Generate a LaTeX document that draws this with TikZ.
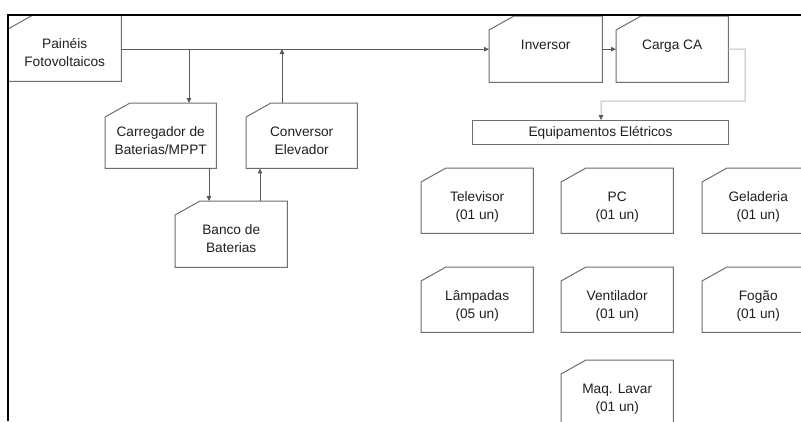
\documentclass[tikz,border=0pt]{standalone}
\usepackage{fontspec}
\setmainfont{Liberation Sans}
\usetikzlibrary{calc,arrows.meta}
\definecolor{boxgray}{HTML}{6E6E6E}
\definecolor{conngray}{HTML}{5A5A5A}
\definecolor{lightconn}{HTML}{BDBDBD}
\definecolor{txt}{HTML}{202020}
\tikzset{
  every node/.style={font=\fontsize{13.7}{18.5}\selectfont, text=txt},
  cardbox/.style={rectangle, inner sep=0pt, anchor=north west},
  cardlabel/.style={inner sep=0pt, anchor=base},
  boxline/.style={draw=boxgray, line width=1pt, line join=miter},
  conn/.style={draw=conngray, line width=0.95pt, -{Triangle[length=5pt,width=4.5pt]}},
  lconn/.style={draw=lightconn, line width=1pt, -{Triangle[length=5pt,width=4.5pt,color=conngray]}},
  frameline/.style={draw=black, line width=2pt}
}
\newcommand\cardnode[6]{%
  \node[cardbox, minimum width=#4pt, minimum height=#5pt] (#1) at (#2,#3) {};
  \node[cardlabel] (#1-t) at ($(#1.north)+(0pt,-33pt)$) {\begin{tabular}[t]{@{}c@{}}#6\end{tabular}};
}
\begin{document}
\begin{tikzpicture}[x=1pt,y=-1pt]
\useasboundingbox (0,0) rectangle (801,421);
\clip (0,0) rectangle (801,421);
\fill[white] (0,0) rectangle (801,421);

% boxes
\cardnode{pv}{8}{15}{113}{66}{Painéis\\Fotovoltaicos}
\cardnode{carr}{105}{103}{111}{65}{Carregador de\\Baterias/MPPT}
\cardnode{conv}{246}{103}{111}{65}{Conversor\\Elevador}
\cardnode{banco}{175}{201}{112}{66}{Banco de\\Baterias}
\cardnode{inv}{489}{16}{113}{66}{Inversor}
\cardnode{carga}{616}{16}{112}{66}{Carga CA}
\cardnode{tv}{421}{168}{112}{65}{Televisor\\(01 un)}
\cardnode{pc}{561}{168}{112}{65}{PC\\(01 un)}
\cardnode{gel}{702}{168}{112}{65}{Geladeria\\(01 un)}
\cardnode{lamp}{421}{267}{112}{65}{Lâmpadas\\(05 un)}
\cardnode{vent}{561}{267}{112}{65}{Ventilador\\(01 un)}
\cardnode{fog}{702}{267}{112}{65}{Fogão\\(01 un)}
\cardnode{maq}{561}{360}{112}{65}{Maq. Lavar\\(01 un)}

\foreach \n in {pv,carr,conv,banco,inv,carga,tv,pc,gel,lamp,vent,fog,maq}{
  \draw[boxline] ($(\n.north west)+(25pt,0pt)$) -- (\n.north east) -- (\n.south east)
    -- (\n.south west) -- ($(\n.north west)+(0pt,-14pt)$) -- cycle;
}

\node[rectangle, boxline, inner sep=0pt, minimum width=256pt, minimum height=24pt, anchor=north west] (equip) at (472,120) {Equipamentos Elétricos};

% connector points
\coordinate (b1) at (189,49);
\coordinate (b2) at (282,49);
\coordinate (d1) at (209,168);
\coordinate (d2) at (260,201);
\coordinate (g1) at (745,49);
\coordinate (g2) at (601,101);

% connectors
\draw[conn] (pv.east |- inv.west) -- (inv.west);
\draw[conn] (b1) -- (b1 |- carr.north);
\draw[conn] (b2 |- conv.north) -- (b2);
\draw[conn] (d1) -- (d1 |- banco.north);
\draw[conn] (d2) -- (d2 |- conv.south);
\draw[conn] (inv.east) -- (carga.west);
\draw[lconn] (carga.east) -- (g1) |- (g2) -- (g2 |- equip.north);

% frame
\draw[frameline] (8,421) -- (8,15) -- (801,15);
\end{tikzpicture}
\end{document}
